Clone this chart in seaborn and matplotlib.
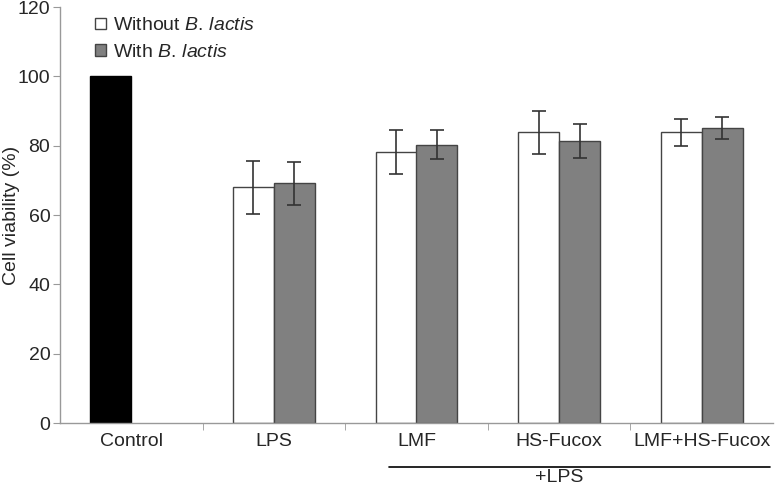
import pandas as pd
import numpy as np
import matplotlib
matplotlib.use("Agg")
import matplotlib.pyplot as plt
import matplotlib.transforms as mtransforms
from matplotlib.patches import Patch
import seaborn as sns

# Data
treatments = ["Control", "LPS", "LMF", "HS-Fucox", "LMF+HS-Fucox"]
without_vals = [100, 68.0, 78.2, 83.8, 83.8]
without_err = [0, 7.7, 6.4, 6.2, 4.0]
with_vals = [69.1, 80.3, 81.3, 85.2]
with_err = [6.2, 4.2, 5.0, 3.2]
with_treatments = treatments[1:]

sns.set_style("white")
plt.rcParams["font.family"] = ["Liberation Sans", "DejaVu Sans"]
plt.rcParams["mathtext.fontset"] = "custom"
plt.rcParams["mathtext.it"] = "Liberation Sans:italic"
plt.rcParams["mathtext.rm"] = "Liberation Sans"

FS = 14

df = pd.concat([
    pd.DataFrame({"treatment": treatments, "group": "Without",
                  "value": without_vals, "err": without_err}),
    pd.DataFrame({"treatment": with_treatments, "group": "With",
                  "value": with_vals, "err": with_err}),
], ignore_index=True)

fig = plt.figure(figsize=(7.77, 4.87), dpi=100)
ax = fig.add_axes([60 / 777, 1 - 423 / 487, 713 / 777, 416 / 487])

sns.barplot(data=df, x="treatment", y="value", hue="group", order=treatments,
            hue_order=["Without", "With"], palette={"Without": "white", "With": "#808080"},
            width=0.575, edgecolor="#444444", linewidth=1.0, errorbar=None,
            legend=False, ax=ax)

# Control bar is black; add error bars at each bar centre
for grp, container in zip(["Without", "With"], ax.containers):
    sub = df[df["group"] == grp].set_index("treatment")
    for bar in container:
        xc = bar.get_x() + bar.get_width() / 2
        cat = treatments[int(round(xc))]
        if cat == "Control":
            bar.set_facecolor("black")
            bar.set_edgecolor("black")
            continue
        ax.errorbar(xc, sub.loc[cat, "value"], yerr=sub.loc[cat, "err"],
                    fmt="none", ecolor="#333333", elinewidth=1.2, capsize=5, capthick=1.2)

ax.set_xlim(-0.5, 4.5)
ax.set_ylim(0, 120)
ax.set_yticks(range(0, 121, 20))
ax.set_xlabel("")
ax.set_ylabel("Cell viability (%)", fontsize=FS)
ax.yaxis.set_label_coords(-0.056, 0.5)

for s in ["top", "right"]:
    ax.spines[s].set_visible(False)
for s in ["left", "bottom"]:
    ax.spines[s].set_color("#999999")
    ax.spines[s].set_linewidth(1.0)

ax.tick_params(axis="y", which="major", direction="out", length=5, color="#999999",
               labelsize=FS, left=True, pad=2)
ax.tick_params(axis="x", which="major", length=0, labelsize=FS, pad=7)
ax.set_xticks(np.arange(0.5, 4.0, 1.0), minor=True)
ax.tick_params(axis="x", which="minor", direction="out", length=5, color="#999999", bottom=True)

# "+LPS" bracket line below LMF..LMF+HS-Fucox
trans = mtransforms.blended_transform_factory(ax.transData, ax.transAxes)
ax.plot([1.81, 4.48], [-0.106, -0.106], color="black", lw=1.2, transform=trans, clip_on=False)
ax.text(3.0, -0.13, "+LPS", transform=trans, ha="center", va="center", fontsize=FS)

handles = [Patch(facecolor="white", edgecolor="#444444", linewidth=1.0),
           Patch(facecolor="#808080", edgecolor="#444444", linewidth=1.0)]
labels = [r"Without $\mathit{B.\,lactis}$", r"With $\mathit{B.\,lactis}$"]
ax.legend(handles, labels, loc="upper left", bbox_to_anchor=(0.025, 1.017), frameon=False,
          fontsize=FS, handlelength=0.55, handleheight=0.55, handletextpad=0.35,
          labelspacing=0.5)

fig.savefig("out.png", dpi=100)
